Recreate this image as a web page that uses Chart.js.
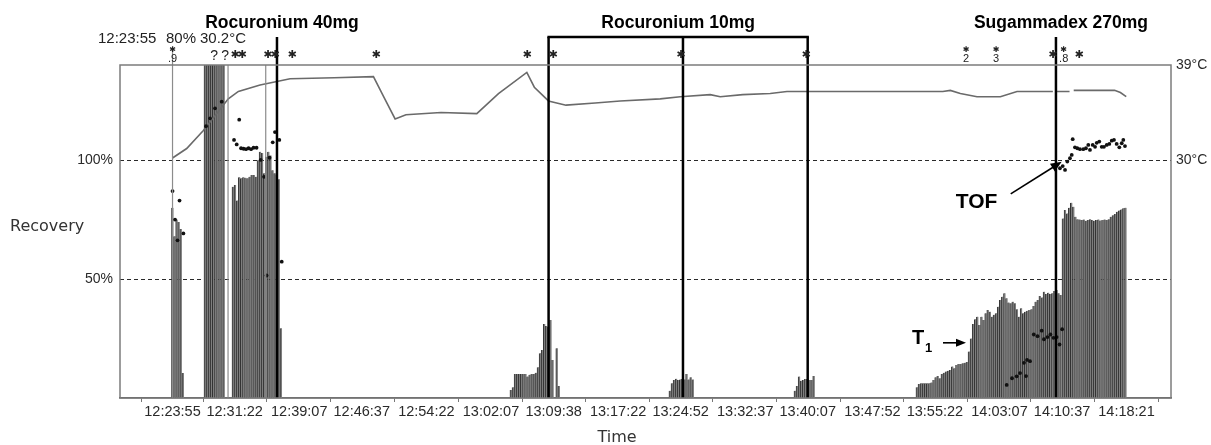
<!DOCTYPE html>
<html>
<head>
<meta charset="utf-8">
<script src="https://cdn.jsdelivr.net/npm/chart.js@4.4.1/dist/chart.umd.min.js"></script>
<style>
  html, body { margin: 0; padding: 0; background: #fff; }
  #wrap { width: 1211px; height: 445px; position: relative; }
</style>
</head>
<body>
<div id="wrap"><canvas id="myChart"></canvas></div>
<script>
// time axis: minutes after the first reading (12:23:55)
var tickTimes = [0, 7.45, 15.2, 22.7, 30.45, 38.2, 45.72, 53.45, 60.95, 68.7, 76.2, 83.95, 91.45, 99.2, 106.7, 114.43];
var tickLabels = ["12:23:55", "12:31:22", "12:39:07", "12:46:37", "12:54:22", "13:02:07", "13:09:38", "13:17:22",
                  "13:24:52", "13:32:37", "13:40:07", "13:47:52", "13:55:22", "14:03:07", "14:10:37", "14:18:21"];
var recoveryTicks = [50, 100];
var tempTicks = [30, 39];

// T1 twitch height (%), one reading every 15 s, in runs
var t1Step = 0.25;
var t1Starts = [0, 3.9, 7.26, 40.6, 59.67, 74.67, 89.3, 106.82];
var t1Run1 = [80, 68, 75, 74, 71, 10.5];
var t1Run2 = [150, 150, 150, 150, 150, 150, 150, 150, 150, 150];
var t1Run3 = [88.8, 89.5, 83, 92.8, 92.4, 92.8, 92.6, 92.4, 93, 93.8, 93.8, 93, 100, 103.5, 103, 94.5,
              101.4, 103.5, 102, 95.8, 94.5, 94, 92, 29.3];
var t1Run4 = [3.4, 4.5, 10.1, 10.1, 10.1, 10.1, 10.1, 10.1, 9, 9.8, 10.1, 10.1, 10.6, 12.9, 18.8, 20.2,
              31.1, 30.3, 30, 32.8, 16, 0, 20.9, 5];
var t1Run5 = [3.1, 6.2, 7.6, 8.1, 7.6, 7.8, 8, 7.8, 10.1, 7.8, 8.7, 7.8];
var t1Run6 = [3.1, 5, 9, 7.3, 7.6, 8, 8, 7.6, 7.6, 9.2];
var t1Run7 = [4.5, 5.9, 6.2, 6.2, 6.2, 6.2, 6.2, 6.5, 7.6, 8.7, 9.2, 8.3, 10.1, 10.6, 11.1, 11.5, 11.8,
              13.2, 12.5, 13.9, 14.3, 14.3, 14.6, 14.8, 15.1, 19.5, 25, 31.1, 33.1, 34.2, 30.7, 34.2,
              32.8, 35.6, 37, 36.3, 34.2, 35, 35.6, 38.4, 41.2, 42.6, 44, 41.9, 40.1, 39.8, 40.5, 39.8,
              37.3, 34.2, 37.7, 35.6, 36.3, 36.7, 37, 37.3, 38.7, 40.5, 41.2, 42.9, 42.3, 44.7, 43.7,
              44.3, 43.7, 44, 45, 45.4, 44, 43.3];
var t1Run8 = [75.5, 79, 77.6, 80, 82.1, 80.4, 76.2, 75.1, 75, 74.8, 75, 74.5, 74.8, 75.2, 74.8, 74.5,
              74.8, 75, 74.6, 74.8, 75, 74.8, 75.2, 76.2, 76.8, 77.4, 78.3, 78.8, 79.3, 79.8, 80];
var t1Runs = [t1Run1, t1Run2, t1Run3, t1Run4, t1Run5, t1Run6, t1Run7, t1Run8];

// TOF ratio (%)
var tofTimes = [0, 0.3, 0.6, 0.84, 1.3, 4.02, 4.5, 5.1, 5.9, 7.38, 7.7, 8.0, 8.22, 8.52, 8.82, 9.12, 9.42,
                9.72, 10.08, 10.58, 10.98, 11.28, 11.64, 12.02, 12.29, 12.81, 13.1,
                100.06, 100.7, 101.26, 101.66, 102.14, 102.38, 102.5, 102.86, 103.31, 103.76, 104.26,
                104.53, 104.95, 105.31, 105.67, 106.05, 106.4, 106.71,
                106.45, 106.78, 107.06, 107.33, 107.65, 107.86, 107.98, 108.25, 108.53, 108.85, 109.25,
                109.57, 109.85, 110.05, 110.38, 110.66, 110.86, 111.17, 111.46, 111.73, 112.06, 112.37,
                112.66, 112.93, 113.25, 113.57, 113.86, 114.05, 114.25];
var tofValues = [87, 75, 66.3, 83, 69.2, 114.3, 117.6, 121.8, 124.6, 108.5, 106.6, 117, 105, 104.8, 104.6,
                 105, 104.6, 105.2, 105.2, 100.1, 93, 51.5, 101, 107.5, 111.8, 108.5, 57.3,
                 5.5, 8.3, 9.1, 10.5, 14.8, 9.2, 16, 15.5, 26.7, 26, 28.3, 24.7, 25.6, 26.7, 25.3, 25.6,
                 22.5, 28.9,
                 96.6, 97.5, 95.9, 99.4, 100.8, 102.2, 108.8, 105.4, 105, 104.6, 104.6, 105, 106.4, 104.3,
                 106.4, 105.6, 107.3, 107.8, 105.6, 105.6, 106.4, 106.8, 108.2, 108.5, 106.8, 105.4,
                 107.1, 108.5, 105.9];

// temperature (°C), null = gap in the trace
var tempTimes = [0, 1.7, 3.7, 6.69, 7.9, 10.5, 14.1, 19.4, 24.1, 25.4, 26.7, 28.0, 32.2, 36.5, 39.1, 42.5,
                 43.4, 45.1, 47.2, 50.7, 53.7, 58.5, 60.9, 64.5, 65.7, 68.4, 71.7, 73.7, 75.6, 92.4, 93.3,
                 94.5, 96.5, 99.3, 101.3, 105.6, 105.8, 106.1, 107.6, 107.8, 108.1, 113.0, 113.7, 114.4];
var tempValues = [30.2, 31.1, 32.8, 35.8, 36.5, 37.1, 37.7, 37.8, 37.9, 35.9, 33.9, 34.3, 34.5, 34.4, 36.3,
                  38.3, 36.9, 35.6, 35.2, 35.4, 35.6, 35.8, 36.0, 36.2, 36.0, 36.2, 36.3, 36.5, 36.5, 36.5,
                  36.6, 36.3, 36.0, 36.0, 36.5, 36.5, null, 36.5, 36.5, null, 36.6, 36.6, 36.4, 36.0];

// drug boluses (minutes)
var drugNames = ["Rocuronium 40mg", "Rocuronium 10mg", "Sugammadex 270mg"];
var drugTimes = [[12.53], [45.11, 61.23, 76.19], [105.97]];

// monitor event lines and marks above the plot
var eventLineTimes = [0, 6.66, 11.18];
var noteTimes = [0, 4.98, 6.3, 7.5, 8.34, 11.45, 12.3, 14.33, 24.41, 42.52, 45.64, 60.99, 75.99,
                 95.18, 98.78, 105.6, 106.9, 108.75];
var noteMarks = [".9", "?", "?", "*", "*", "*", "*", "*", "*", "*", "*", "*", "*", "2", "3", "*", ".8", "*"];

// arrows: [time, %]
var tofArrowAt = [106.66, 99.3];
var t1ArrowAt = [95.18, 23.2];

var FONT = '"Liberation Sans", Arial, sans-serif';
Chart.defaults.font.family = FONT;
Chart.defaults.color = '#2a2a2a';

var barPoints = [];
t1Runs.forEach(function (run, r) {
  run.forEach(function (v, i) {
    barPoints.push({ x: t1Starts[r] + i * t1Step, y: v });
  });
});
var tofPoints = tofTimes.map(function (t, i) { return { x: t, y: tofValues[i] }; });
var tempPoints = tempTimes.map(function (t, i) { return { x: t, y: tempValues[i] }; });

function arrow(ctx, x1, y1, x2, y2, len, half) {
  var a = Math.atan2(y2 - y1, x2 - x1);
  ctx.beginPath(); ctx.moveTo(x1, y1);
  ctx.lineTo(x2 - Math.cos(a) * len * 0.8, y2 - Math.sin(a) * len * 0.8); ctx.stroke();
  ctx.beginPath();
  ctx.moveTo(x2, y2);
  ctx.lineTo(x2 - Math.cos(a) * len - Math.sin(a) * half, y2 - Math.sin(a) * len + Math.cos(a) * half);
  ctx.lineTo(x2 - Math.cos(a) * len + Math.sin(a) * half, y2 - Math.sin(a) * len - Math.cos(a) * half);
  ctx.closePath(); ctx.fill();
}

var overlay = {
  id: 'overlay',
  afterDatasetsDraw: function (chart) {
    var ctx = chart.ctx, xs = chart.scales.x, ys = chart.scales.y, area = chart.chartArea;
    ctx.save();
    // grey event lines
    ctx.strokeStyle = '#8c8c8c'; ctx.lineWidth = 1.2;
    eventLineTimes.forEach(function (t, i) {
      var px = xs.getPixelForValue(t);
      ctx.beginPath(); ctx.moveTo(px, i === 0 ? 50 : area.top); ctx.lineTo(px, area.bottom); ctx.stroke();
    });
    // drug lines and labels
    ctx.strokeStyle = '#000'; ctx.lineWidth = 2.5;
    ctx.fillStyle = '#000';
    ctx.font = 'bold 17.5px ' + FONT;
    ctx.textAlign = 'center'; ctx.textBaseline = 'alphabetic';
    var top = 37;
    drugTimes.forEach(function (times, i) {
      var pts = times.map(function (t) { return xs.getPixelForValue(t); });
      pts.forEach(function (px) {
        ctx.beginPath(); ctx.moveTo(px, top); ctx.lineTo(px, area.bottom); ctx.stroke();
      });
      var cx;
      if (pts.length > 1) {
        ctx.beginPath(); ctx.moveTo(pts[0] - 1.2, top); ctx.lineTo(pts[pts.length - 1] + 1.2, top); ctx.stroke();
        cx = (pts[0] + pts[pts.length - 1]) / 2;
      } else {
        cx = pts[0] + 5;
      }
      ctx.fillText(drugNames[i], cx, 28);
    });
    // arrows
    ctx.lineWidth = 1.6;
    var tx = xs.getPixelForValue(tofArrowAt[0]), ty = ys.getPixelForValue(tofArrowAt[1]);
    arrow(ctx, tx - 51, ty + 32, tx, ty, 11, 4.5);
    ctx.font = 'bold 21px ' + FONT; ctx.textAlign = 'left';
    ctx.fillText('TOF', tx - 106, ty + 46);
    var ax = xs.getPixelForValue(t1ArrowAt[0]), ay = ys.getPixelForValue(t1ArrowAt[1]);
    arrow(ctx, ax - 23, ay, ax, ay, 10, 4);
    ctx.font = 'bold 20px ' + FONT;
    ctx.fillText('T', ax - 54, ay + 1.5);
    ctx.font = 'bold 13px ' + FONT;
    ctx.fillText('1', ax - 41, ay + 9.5);
    ctx.restore();
  },
  afterDraw: function (chart) {
    var ctx = chart.ctx, xs = chart.scales.x, area = chart.chartArea;
    ctx.save();
    ctx.strokeStyle = '#7c7c7c'; ctx.lineWidth = 1.5;
    ctx.strokeRect(area.left, area.top, area.right - area.left, area.bottom - area.top);
    // header with the first reading
    ctx.fillStyle = '#222';
    ctx.font = '15px ' + FONT; ctx.textAlign = 'left'; ctx.textBaseline = 'alphabetic';
    ctx.fillText(tickLabels[0], 98, 43);
    ctx.fillText(t1Run1[0] + '%', 166, 43);
    ctx.fillText(tempValues[0] + '\u00b0C', 200, 43);
    // marks row
    ctx.textAlign = 'center';
    noteTimes.forEach(function (t, i) {
      var px = xs.getPixelForValue(t), m = noteMarks[i];
      if (m === '*') {
        ctx.font = 'bold 11px "DejaVu Sans"'; ctx.fillText('\u2731', px, 58);
      } else if (m === '?') {
        ctx.font = '14px ' + FONT; ctx.fillText('?', px, 60);
      } else {
        ctx.font = 'bold 8px "DejaVu Sans"'; ctx.fillText('\u2731', px, 52);
        ctx.font = '11px ' + FONT; ctx.fillText(m, px, 62);
      }
    });
    // axis titles
    ctx.font = '16px "DejaVu Sans"'; ctx.fillStyle = '#333';
    ctx.textAlign = 'left';
    ctx.fillText('Recovery', 10, 231);
    ctx.textAlign = 'center';
    ctx.fillText('Time', 617, 442);
    ctx.restore();
  }
};

var ctx = document.getElementById('myChart');
var myChart = new Chart(ctx, {
  type: 'bar',
  data: {
    datasets: [
      {
        type: 'line',
        label: 'TOF',
        data: tofPoints,
        showLine: false,
        pointRadius: 1.9,
        pointBackgroundColor: '#111',
        pointBorderWidth: 0,
        order: 0
      },
      {
        type: 'line',
        label: 'Temperature',
        data: tempPoints,
        yAxisID: 'yT',
        borderColor: '#6a6a6a',
        borderWidth: 1.6,
        pointRadius: 0,
        spanGaps: false,
        tension: 0,
        order: 1
      },
      {
        type: 'bar',
        label: 'T1',
        data: barPoints,
        backgroundColor: '#7e7e7e',
        borderColor: '#333',
        borderWidth: { left: 1, right: 0, top: 0, bottom: 0 },
        borderSkipped: false,
        barThickness: 2.1,
        grouped: false,
        order: 2
      }
    ]
  },
  options: {
    responsive: true,
    maintainAspectRatio: false,
    animation: false,
    events: [],
    layout: { padding: { top: 65, left: 0, right: 0, bottom: 0 } },
    plugins: { legend: { display: false }, tooltip: { enabled: false } },
    scales: {
      x: {
        type: 'linear',
        offset: false,
        min: -6.3,
        max: 119.77,
        afterBuildTicks: function (axis) { axis.ticks = tickTimes.map(function (v) { return { value: v }; }); },
        afterFit: function (s) { s.height = 47; },
        ticks: {
          autoSkip: false, maxRotation: 0, padding: 1,
          font: { size: 14.5 }, color: '#2a2a2a',
          callback: function (v, i) { return tickLabels[i]; }
        },
        grid: { drawOnChartArea: false, drawTicks: true, tickLength: 4, color: '#777' },
        border: { display: true, color: '#555', width: 1.5 }
      },
      y: {
        position: 'left',
        min: 0, max: 140, z: 1,
        afterBuildTicks: function (axis) { axis.ticks = recoveryTicks.map(function (v) { return { value: v }; }); },
        afterFit: function (s) { s.width = 120; },
        ticks: { padding: 7, font: { size: 14 }, color: '#2a2a2a', callback: function (v) { return v + '%'; } },
        grid: { color: '#2a2a2a', lineWidth: 1, drawTicks: false },
        border: { display: false, dash: [4, 3] }
      },
      yT: {
        position: 'right',
        min: 7.5, max: 39,
        afterBuildTicks: function (axis) { axis.ticks = tempTicks.map(function (v) { return { value: v }; }); },
        afterFit: function (s) { s.width = 40; },
        ticks: { padding: 5, font: { size: 14 }, color: '#2a2a2a', callback: function (v) { return v + '\u00b0C'; } },
        grid: { drawOnChartArea: false, drawTicks: false },
        border: { display: false }
      }
    }
  },
  plugins: [overlay]
});
</script>
</body>
</html>
